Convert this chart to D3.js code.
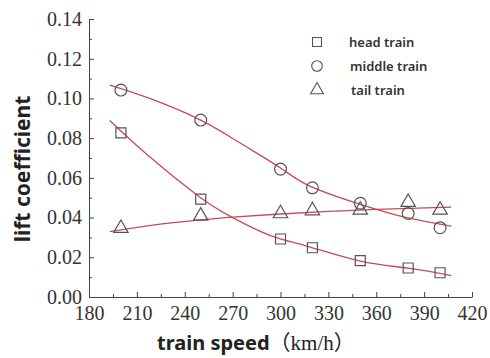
<!DOCTYPE html>
<html>
<head>
<meta charset="utf-8">
<script src="https://d3js.org/d3.v7.min.js"></script>
<style>
  body { margin: 0; background: #fff; }
</style>
</head>
<body>
<div id="chart"></div>
<script>
// measured points
const speeds = [200, 250, 300, 320, 350, 380, 400];
const headTrain = [0.0827, 0.0493, 0.0292, 0.0248, 0.0183, 0.0146, 0.0122];
const middleTrain = [0.1042, 0.0891, 0.0644, 0.0550, 0.0472, 0.0421, 0.0349];
const tailTrain = [0.0346, 0.0408, 0.0420, 0.0435, 0.0438, 0.0477, 0.0438];

// fitted curves
const headFitX = [193, 218, 250, 270, 293, 318, 350, 380, 407];
const headFitY = [0.0889, 0.0706, 0.0500, 0.0400, 0.0312, 0.0253, 0.0181, 0.0145, 0.0108];
const middleFitX = [193, 218, 250, 275, 300, 318, 350, 380, 407];
const middleFitY = [0.1067, 0.1000, 0.0891, 0.0774, 0.0650, 0.0560, 0.0467, 0.0398, 0.0357];
const tailFitX = [193, 220, 250, 270, 300, 330, 360, 407];
const tailFitY = [0.0329, 0.0362, 0.0388, 0.0402, 0.0418, 0.0431, 0.0441, 0.0453];

const xTicks = [180, 210, 240, 270, 300, 330, 360, 390, 420];
const yTicks = [0.00, 0.02, 0.04, 0.06, 0.08, 0.10, 0.12, 0.14];
const legendNames = ["head train", "middle train", "tail train"];

const W = 490, H = 358;
const margin = { top: 19, right: 18, bottom: 61, left: 89 };

const svg = d3.select("#chart").append("svg")
  .attr("width", W).attr("height", H);

const x = d3.scaleLinear().domain([180, 420]).range([margin.left, W - margin.right]);
const y = d3.scaleLinear().domain([0, 0.14]).range([H - margin.bottom, margin.top]);

const styleAxis = g => {
  g.selectAll(".domain, .tick line").attr("stroke", "#444");
  g.selectAll(".tick text")
    .style("font-family", "'Liberation Serif', 'DejaVu Serif', serif")
    .style("font-size", "20px")
    .attr("fill", "#333");
};

// minor ticks
svg.append("g")
  .attr("transform", `translate(0,${H - margin.bottom})`)
  .call(d3.axisBottom(x).tickValues(d3.range(195, 420, 30)).tickSize(-3).tickFormat(""))
  .call(g => g.select(".domain").remove())
  .call(styleAxis);
svg.append("g")
  .attr("transform", `translate(${margin.left},0)`)
  .call(d3.axisLeft(y).tickValues(d3.range(0.01, 0.14, 0.02)).tickSize(-3).tickFormat(""))
  .call(g => g.select(".domain").remove())
  .call(styleAxis);

// main axes
svg.append("g")
  .attr("transform", `translate(0,${H - margin.bottom})`)
  .call(d3.axisBottom(x).tickValues(xTicks).tickSizeInner(-5).tickSizeOuter(0).tickPadding(9))
  .call(styleAxis)
  .call(g => g.selectAll(".tick text").attr("dy", "0.71em"));
svg.append("g")
  .attr("transform", `translate(${margin.left},0)`)
  .call(d3.axisLeft(y).tickValues(yTicks).tickSizeInner(-5).tickSizeOuter(0).tickPadding(7)
    .tickFormat(d3.format(".2f")))
  .call(styleAxis);

// fit curves
const line = d3.line().x(d => x(d[0])).y(d => y(d[1])).curve(d3.curveNatural);
[[headFitX, headFitY], [middleFitX, middleFitY], [tailFitX, tailFitY]].forEach(([xs, ys]) => {
  svg.append("path")
    .datum(xs.map((v, i) => [v, ys[i]]))
    .attr("fill", "none")
    .attr("stroke", "#c64b58")
    .attr("stroke-width", 1.3)
    .attr("d", line);
});

// markers
const markColor = "#555";
const sym = [d3.symbolSquare, d3.symbolCircle, d3.symbolTriangle];
const sizes = [100, 110, 90];
[headTrain, middleTrain, tailTrain].forEach((vals, k) => {
  svg.append("g").selectAll("path")
    .data(vals)
    .join("path")
    .attr("transform", (d, i) => `translate(${x(speeds[i])},${y(d)})`)
    .attr("d", d3.symbol().type(sym[k]).size(sizes[k]))
    .attr("fill", "none")
    .attr("stroke", markColor)
    .attr("stroke-width", 1.2);
});

// legend
const leg = svg.append("g");
legendNames.forEach((name, k) => {
  const ly = 42 + k * 24;
  leg.append("path")
    .attr("transform", `translate(317,${ly})`)
    .attr("d", d3.symbol().type(sym[k]).size(sizes[k] * 0.8))
    .attr("fill", "none").attr("stroke", markColor).attr("stroke-width", 1.1);
  leg.append("text")
    .attr("x", 349 + k).attr("y", ly + 5)
    .attr("font-family", "Noto Sans, sans-serif")
    .attr("font-size", 13).attr("font-weight", 600).attr("fill", "#333")
    .text(name);
});

// axis titles
const xt = svg.append("text")
  .attr("x", 157).attr("y", 350)
  .attr("fill", "#222");
xt.append("tspan")
  .attr("font-family", "Noto Sans, sans-serif").attr("font-weight", "bold").attr("font-size", 20)
  .text("train speed");
xt.append("tspan")
  .attr("font-family", "Liberation Serif, Noto Sans CJK SC").attr("font-size", 21)
  .text("（km/h）");

svg.append("text")
  .attr("transform", `translate(30,169) rotate(-90)`)
  .attr("text-anchor", "middle")
  .attr("font-family", "Noto Sans, sans-serif").attr("font-weight", "bold").attr("font-size", 21)
  .attr("fill", "#222")
  .text("lift coefficient");
</script>
</body>
</html>
